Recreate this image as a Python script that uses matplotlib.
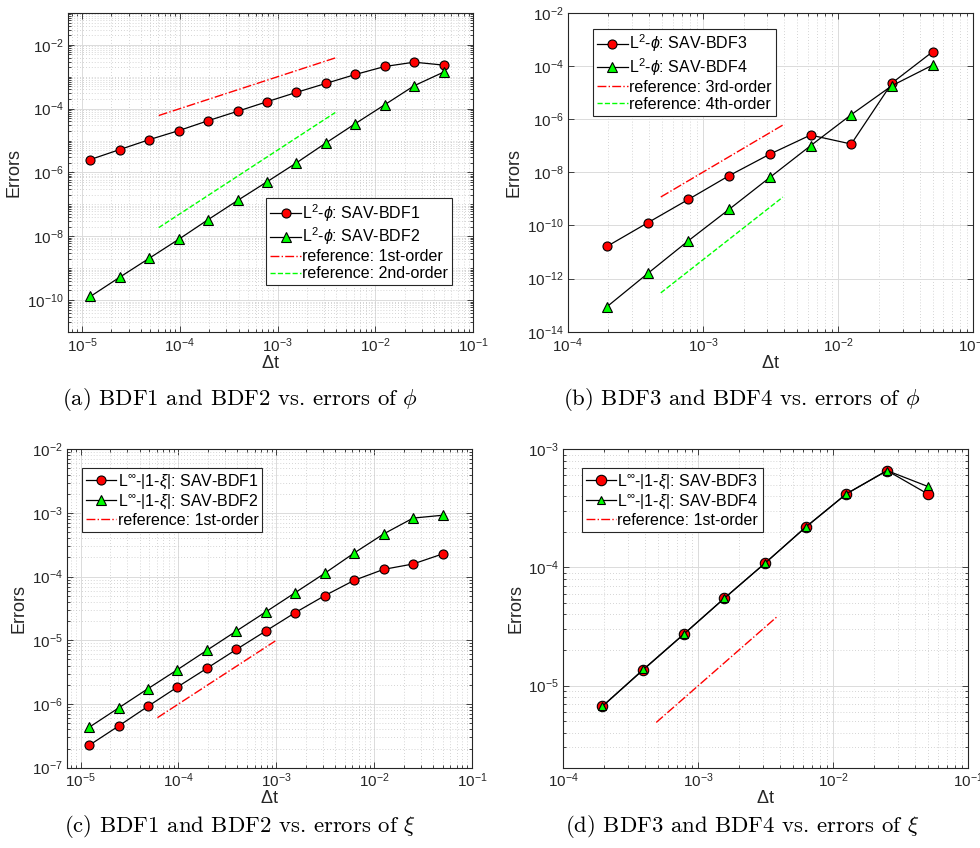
import numpy as np
import matplotlib
matplotlib.use('Agg')
from matplotlib import pyplot as plt
from matplotlib.ticker import LogLocator, FixedLocator, NullLocator, NullFormatter

plt.rcParams['font.family'] = ['Liberation Sans', 'DejaVu Sans']
plt.rcParams['mathtext.fontset'] = 'custom'
plt.rcParams['mathtext.rm'] = 'Liberation Sans'
plt.rcParams['mathtext.it'] = 'Liberation Sans:italic'
plt.rcParams['mathtext.bf'] = 'Liberation Sans:bold'

# time steps (BDF1/BDF2 runs and BDF3/BDF4 runs)
dt_12 = [1.22e-5, 2.44e-5, 4.88e-5, 9.77e-5, 1.95e-4, 3.91e-4, 7.81e-4,
         1.56e-3, 3.13e-3, 6.25e-3, 1.25e-2, 2.5e-2, 5e-2]
dt_34 = [1.95e-4, 3.91e-4, 7.81e-4, 1.56e-3, 3.13e-3, 6.25e-3, 1.25e-2, 2.5e-2, 5e-2]

# L2 errors of phi
phi_bdf1 = [2.55e-6, 5.24e-6, 1.07e-5, 2.05e-5, 4.2e-5, 8.3e-5, 1.65e-4,
            3.24e-4, 6.2e-4, 1.18e-3, 2.1e-3, 2.87e-3, 2.32e-3]
phi_bdf2 = [1.3e-10, 5.24e-10, 2.05e-9, 8.06e-9, 3.32e-8, 1.33e-7, 5.1e-7,
            2.0e-6, 8.45e-6, 3.4e-5, 1.33e-4, 5.24e-4, 1.4e-3]
phi_bdf3 = [1.62e-11, 1.26e-10, 9.5e-10, 7.4e-9, 4.8e-8, 2.5e-7, 1.15e-7, 2.26e-5, 3.4e-4]
phi_bdf4 = [8.7e-14, 1.56e-12, 2.65e-11, 4.0e-10, 6.4e-9, 9.9e-8, 1.46e-6, 1.8e-5, 1.07e-4]

# Linf errors of |1-xi|
xi_bdf1 = [2.24e-7, 4.5e-7, 9.2e-7, 1.85e-6, 3.63e-6, 7.2e-6, 1.4e-5,
           2.72e-5, 5.03e-5, 8.75e-5, 1.3e-4, 1.58e-4, 2.27e-4]
xi_bdf2 = [4.3e-7, 8.65e-7, 1.74e-6, 3.46e-6, 6.96e-6, 1.4e-5, 2.79e-5,
           5.6e-5, 1.13e-4, 2.35e-4, 4.68e-4, 8.3e-4, 9.2e-4]
xi_bdf3 = [6.68e-6, 1.36e-5, 2.72e-5, 5.48e-5, 1.09e-4, 2.19e-4, 4.19e-4, 6.6e-4, 4.19e-4]
xi_bdf4 = [6.7e-6, 1.37e-5, 2.73e-5, 5.5e-5, 1.09e-4, 2.2e-4, 4.2e-4, 6.6e-4, 4.85e-4]

# reference slopes (end points)
ref1_a_x = [6.1e-5, 3.9e-3]
ref1_a_y = [6.1e-5, 3.9e-3]
ref2_a_x = [6.1e-5, 3.9e-3]
ref2_a_y = [1.87e-8, 7.6e-5]
ref3_b_x = [4.88e-4, 3.9e-3]
ref3_b_y = [1.17e-9, 5.95e-7]
ref4_b_x = [4.88e-4, 3.9e-3]
ref4_b_y = [2.9e-13, 1.16e-9]
ref1_c_x = [6.1e-5, 9.77e-4]
ref1_c_y = [6.1e-7, 9.77e-6]
ref1_d_x = [4.88e-4, 3.9e-3]
ref1_d_y = [4.88e-6, 3.9e-5]

captions = [r'(a) BDF1 and BDF2 vs. errors of $\phi$',
            r'(b) BDF3 and BDF4 vs. errors of $\phi$',
            r'(c) BDF1 and BDF2 vs. errors of $\xi$',
            r'(d) BDF3 and BDF4 vs. errors of $\xi$']

AXC = (0.15, 0.15, 0.15)


def style_axes(ax, xlim, ylim, yticks, yminor=True):
    ax.set_xscale('log')
    ax.set_yscale('log')
    ax.set_xlim(xlim)
    ax.set_ylim(ylim)
    ax.xaxis.set_major_locator(LogLocator(base=10, numticks=20))
    ax.xaxis.set_minor_locator(LogLocator(base=10, subs=np.arange(1, 10), numticks=100))
    ax.xaxis.set_minor_formatter(NullFormatter())
    ax.yaxis.set_major_locator(FixedLocator(yticks))
    if yminor:
        ax.yaxis.set_minor_locator(LogLocator(base=10, subs=np.arange(1, 10), numticks=100))
    else:
        ax.yaxis.set_minor_locator(NullLocator())
    ax.yaxis.set_minor_formatter(NullFormatter())
    ax.grid(True, which='major', color=(0.86, 0.86, 0.86), lw=0.7, ls='-')
    ax.grid(True, which='minor', color=(0.78, 0.78, 0.78), lw=0.6, ls=(0, (1, 2.5)))
    ax.set_axisbelow(True)
    ax.tick_params(which='both', direction='in', top=True, right=True,
                   colors=AXC, labelsize=11, width=0.6)
    ax.tick_params(which='major', length=4, pad=3)
    ax.tick_params(which='minor', length=2.2)
    for s in ax.spines.values():
        s.set_color(AXC)
        s.set_linewidth(0.8)
    ax.set_xlabel(r'$\Delta$t', fontsize=13, color=AXC, labelpad=0)
    ax.set_ylabel('Errors', fontsize=13, color=AXC, labelpad=3)


def add_legend(ax, anchor):
    leg = ax.legend(loc='upper left', bbox_to_anchor=anchor, fontsize=11.5,
                    frameon=True, fancybox=False, framealpha=1,
                    edgecolor=AXC, handlelength=1.9, handletextpad=0.1,
                    borderpad=0.25, labelspacing=0.12, borderaxespad=0)
    leg.get_frame().set_linewidth(0.8)


mk = dict(color='k', lw=0.9, markeredgecolor='k', markeredgewidth=0.8)

fig = plt.figure(figsize=(9.8, 8.48), dpi=100)
ax_a = fig.add_axes([0.0694, 0.6085, 0.4133, 0.3762])
ax_b = fig.add_axes([0.5793, 0.6088, 0.4139, 0.3762])
ax_c = fig.add_axes([0.0680, 0.0947, 0.4136, 0.3755])
ax_d = fig.add_axes([0.5748, 0.0947, 0.4133, 0.3755])

# (a)
style_axes(ax_a, (7.2e-6, 1e-1), (1e-11, 1e-1), [1e-10, 1e-8, 1e-6, 1e-4, 1e-2])
ax_a.plot(dt_12, phi_bdf1, marker='o', markersize=6.5, markerfacecolor='r', **mk,
          label=r'L$^2$-$\phi$: SAV-BDF1')
ax_a.plot(dt_12, phi_bdf2, marker='^', markersize=7, markerfacecolor=(0, 1, 0), **mk,
          label=r'L$^2$-$\phi$: SAV-BDF2')
ax_a.plot(ref1_a_x, ref1_a_y, 'r-.', lw=1.0, label='reference: 1st-order')
ax_a.plot(ref2_a_x, ref2_a_y, '--', color=(0, 1, 0), lw=1.0, label='reference: 2nd-order')
add_legend(ax_a, (0.49, 0.42))

# (b)
style_axes(ax_b, (1e-4, 1e-1), (1e-14, 1e-2),
           [1e-14, 1e-12, 1e-10, 1e-8, 1e-6, 1e-4, 1e-2], yminor=False)
ax_b.plot(dt_34, phi_bdf3, marker='o', markersize=6.5, markerfacecolor='r', **mk,
          label=r'L$^2$-$\phi$: SAV-BDF3')
ax_b.plot(dt_34, phi_bdf4, marker='^', markersize=7, markerfacecolor=(0, 1, 0), **mk,
          label=r'L$^2$-$\phi$: SAV-BDF4')
ax_b.plot(ref3_b_x, ref3_b_y, 'r-.', lw=1.0, label='reference: 3rd-order')
ax_b.plot(ref4_b_x, ref4_b_y, '--', color=(0, 1, 0), lw=1.0, label='reference: 4th-order')
add_legend(ax_b, (0.063, 0.95))

# (c)
style_axes(ax_c, (7.2e-6, 1e-1), (1e-7, 1e-2), [1e-7, 1e-6, 1e-5, 1e-4, 1e-3, 1e-2])
ax_c.plot(dt_12, xi_bdf1, marker='o', markersize=6.5, markerfacecolor='r', **mk,
          label=r'L$^{\infty}$-|1-$\xi$|: SAV-BDF1')
ax_c.plot(dt_12, xi_bdf2, marker='^', markersize=7, markerfacecolor=(0, 1, 0), **mk,
          label=r'L$^{\infty}$-|1-$\xi$|: SAV-BDF2')
ax_c.plot(ref1_c_x, ref1_c_y, 'r-.', lw=1.0, label='reference: 1st-order')
add_legend(ax_c, (0.037, 0.94))

# (d)
style_axes(ax_d, (1e-4, 1e-1), (2.02e-6, 1e-3), [1e-5, 1e-4, 1e-3])
ax_d.plot(dt_34, xi_bdf3, marker='o', markersize=7.5, markerfacecolor='r', **mk,
          label=r'L$^{\infty}$-|1-$\xi$|: SAV-BDF3')
ax_d.plot(dt_34, xi_bdf4, marker='^', markersize=6, markerfacecolor=(0, 1, 0), **mk,
          label=r'L$^{\infty}$-|1-$\xi$|: SAV-BDF4')
ax_d.plot(ref1_d_x, ref1_d_y, 'r-.', lw=1.0, label='reference: 1st-order')
add_legend(ax_d, (0.045, 0.94))

# sub-figure captions
cap_pos = [(0.245, 0.529), (0.757, 0.529), (0.245, 0.025), (0.757, 0.025)]
for (cx, cy), txt in zip(cap_pos, captions):
    fig.text(cx, cy, txt, ha='center', va='center', fontsize=16.4,
             family='cmr10', math_fontfamily='cm')

fig.savefig('out.png', dpi=100)
plt.close(fig)
